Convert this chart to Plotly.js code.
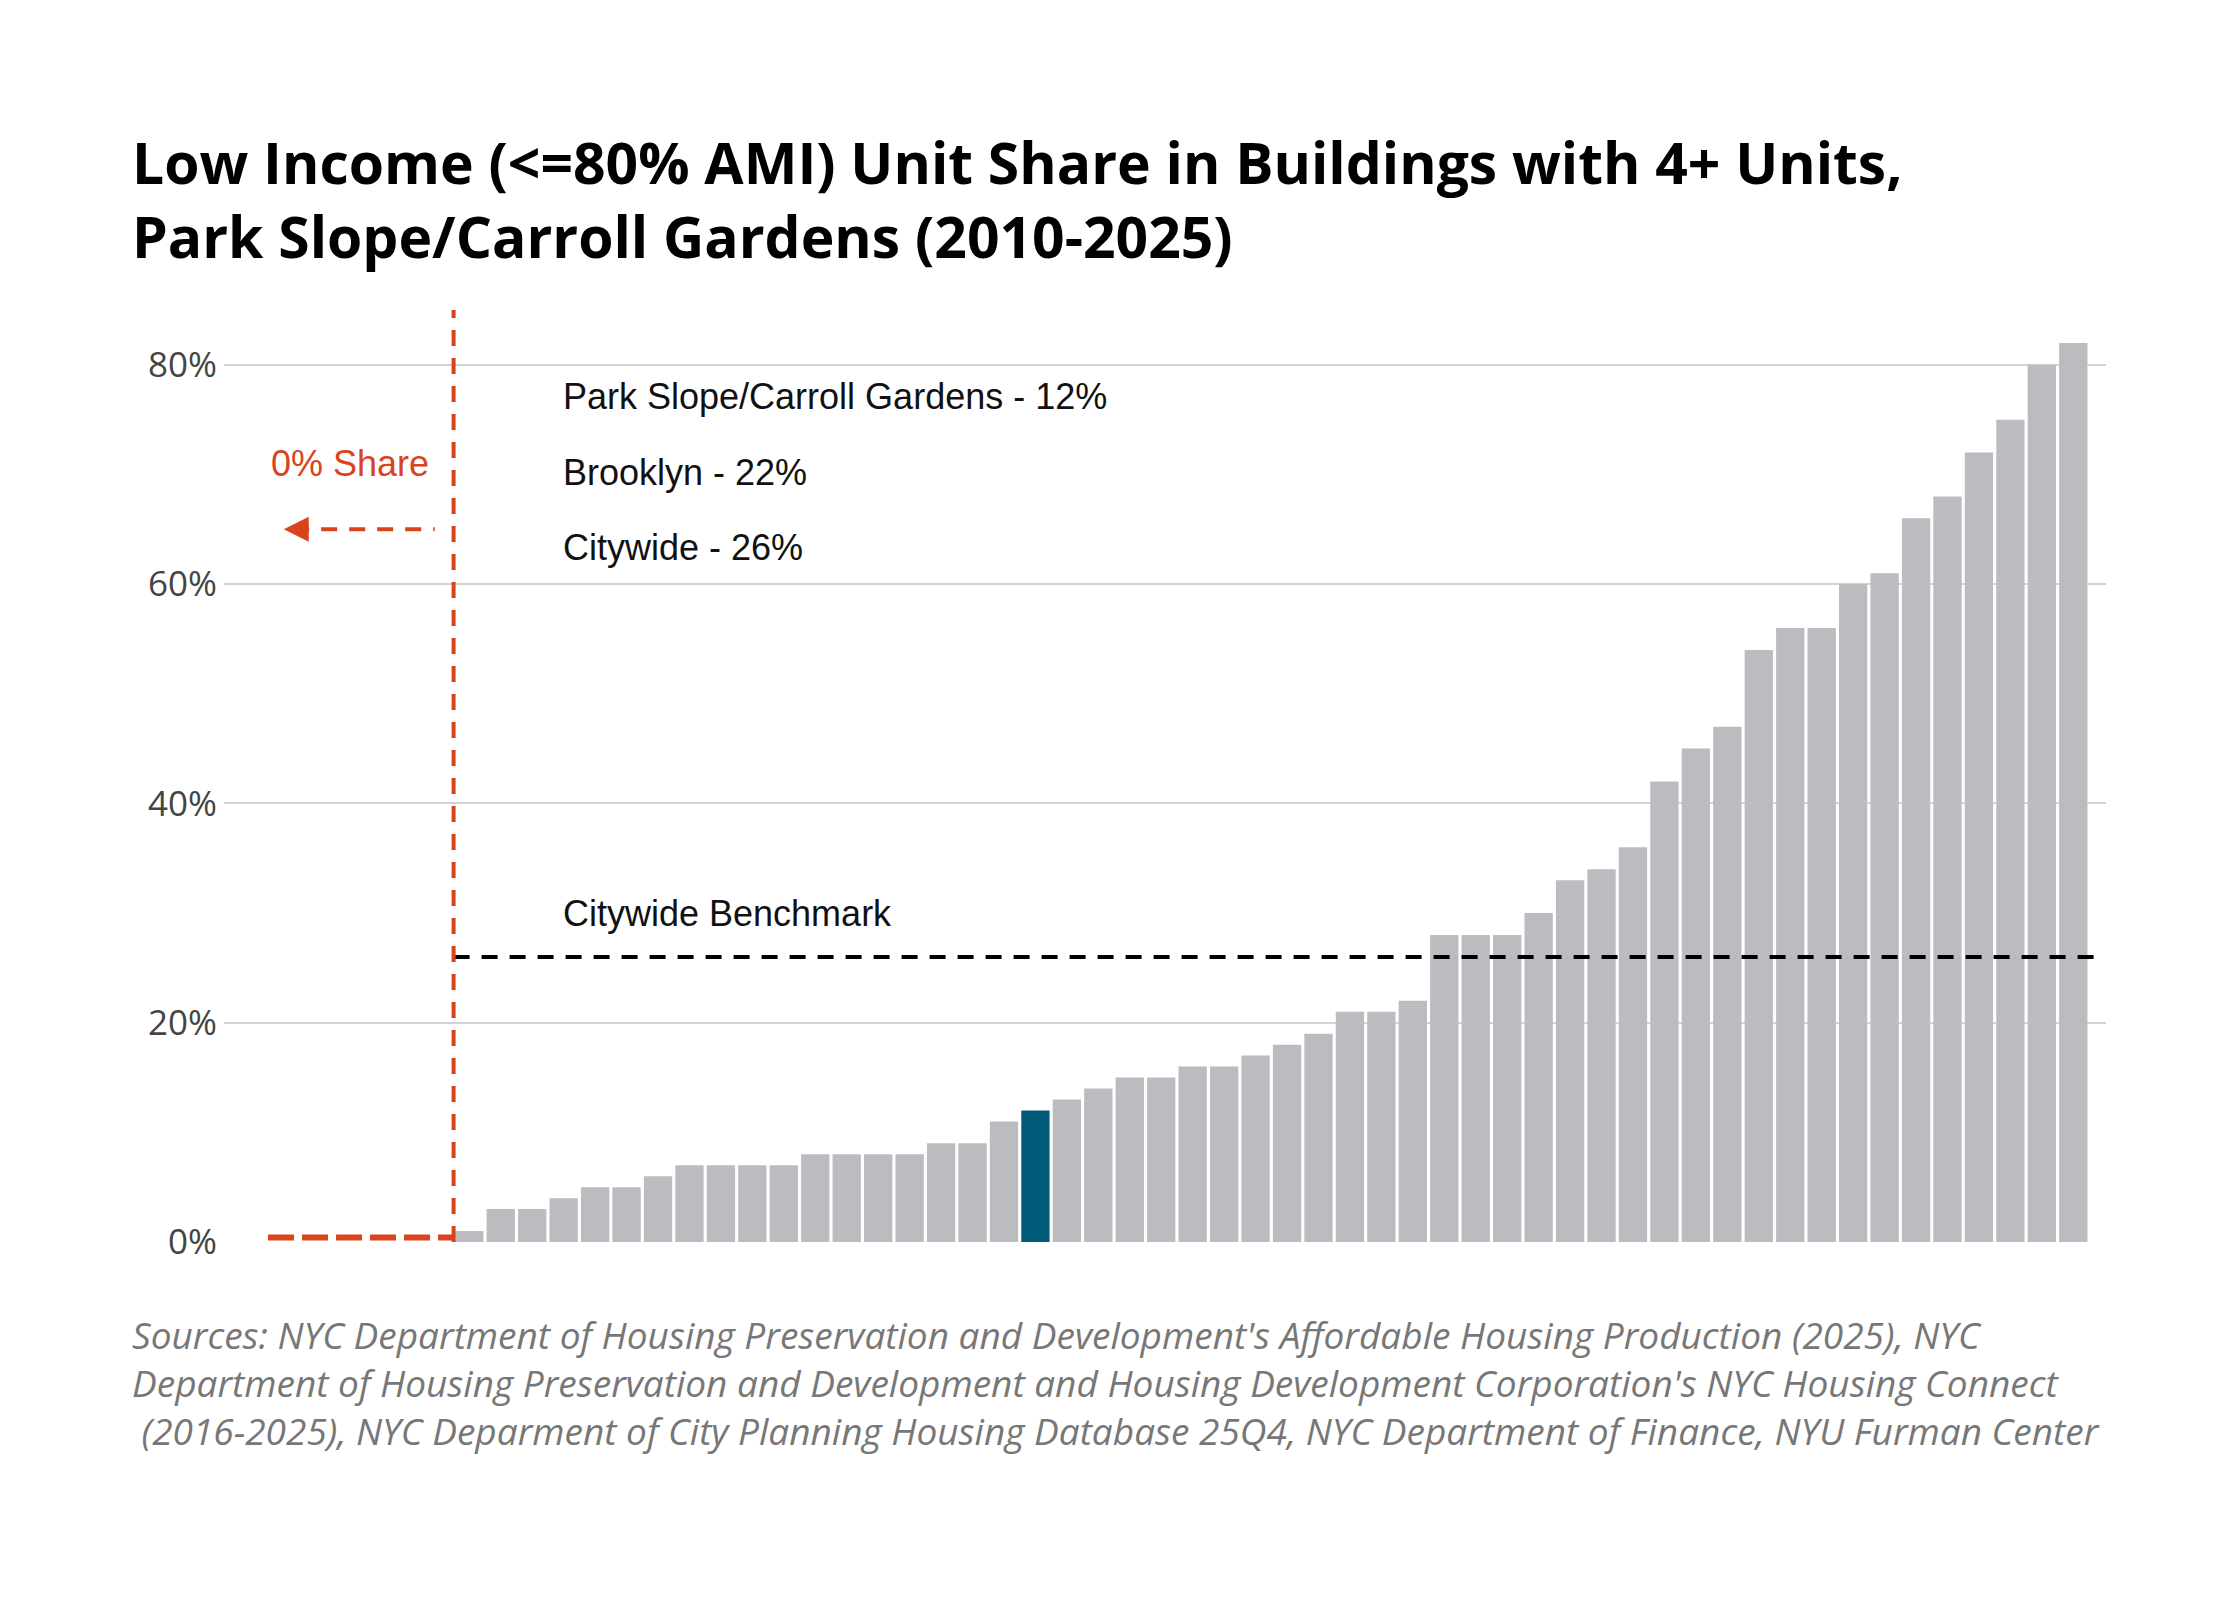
<!DOCTYPE html>
<html>
<head>
<meta charset="utf-8">
<script src="https://cdn.plot.ly/plotly-3.0.1.min.js"></script>
<style>body{margin:0;background:#fff}#graph{width:2240px;height:1600px}</style>
</head>
<body>
<div id="graph"></div>
<script>
// share of low income units per building, sorted
var shares = [1,3,3,4,5,5,6,7,7,7,7,8,8,8,8,9,9,11,12,13,14,15,15,16,16,17,18,19,21,21,22,
  28,28,28,30,33,34,36,42,45,47,54,56,56,60,61,66,68,72,75,80,82];
var highlight = 12;
var benchmark = 26;
var yTicks = [0, 20, 40, 60, 80];
var yTickText = ['0%', '20%', '40%', '60%', '80%'];
var legendLines = ['Park Slope/Carroll Gardens - 12%', 'Brooklyn - 22%', 'Citywide - 26%'];

var xs = shares.map(function(v, i) { return i + 1; });
var hiIdx = shares.indexOf(highlight);
var colors = shares.map(function(v, i) { return i === hiIdx ? '#005b78' : '#bbbcc0'; });

var red = '#d9441c';

var trace = {
  x: xs, y: shares, type: 'bar',
  marker: {color: colors},
  hoverinfo: 'none'
};

var annotations = [
  {x: 3.9, y: 77.1, text: legendLines[0]},
  {x: 3.9, y: 70.2, text: legendLines[1]},
  {x: 3.9, y: 63.3, text: legendLines[2]},
  {x: 3.9, y: 30, text: 'Citywide Benchmark'}
].map(function(a) {
  return {x: a.x, y: a.y, xref: 'x', yref: 'y', text: a.text, showarrow: false,
    xanchor: 'left', font: {family: 'Liberation Sans, Arial', size: 36, color: '#111'}};
});
annotations.push({x: -2.8, y: 71, xref: 'x', yref: 'y', text: '0% Share', showarrow: false,
  font: {family: 'Liberation Sans, Arial', size: 36, color: red}});
annotations.push({x: -4.9, y: 65, ax: -4.1, ay: 65, axref: 'x', ayref: 'y', xref: 'x', yref: 'y',
  text: '', showarrow: true, arrowhead: 2, arrowsize: 1, arrowwidth: 5, arrowcolor: red});
annotations.push({xref: 'paper', yref: 'paper', x: -0.05, y: 1.035, xanchor: 'left', yanchor: 'bottom',
  text: 'Low Income (<=80% AMI) Unit Share in Buildings with 4+ Units,<br>Park Slope/Carroll Gardens (2010-2025)',
  align: 'left', showarrow: false, font: {family: 'Open Sans', size: 57, color: '#000', weight: 700}});
annotations.push({xref: 'paper', yref: 'paper', x: -0.05, y: -0.07, xanchor: 'left', yanchor: 'top',
  text: "<i>Sources: NYC Department of Housing Preservation and Development's Affordable Housing Production (2025), NYC<br>Department of Housing Preservation and Development and Housing Development Corporation's NYC Housing Connect<br> (2016-2025), NYC Deparment of City Planning Housing Database 25Q4, NYC Department of Finance, NYU Furman Center</i>",
  align: 'left', showarrow: false, font: {family: 'Open Sans', size: 37, color: '#777'}});

var shapes = [
  {type: 'line', xref: 'x', yref: 'y', x0: 0.5, x1: 53, y0: benchmark, y1: benchmark,
    line: {color: '#000', width: 4, dash: '16px,12px'}},
  {type: 'line', xref: 'x', yref: 'y', x0: 0.5, x1: 0.5, y0: 0, y1: 85,
    line: {color: red, width: 4, dash: '16px,12px'}},
  {type: 'line', xref: 'x', yref: 'y', x0: -5.4, x1: 0.5, y0: 0.4, y1: 0.4,
    line: {color: red, width: 6, dash: '26px,8px'}},
  {type: 'line', xref: 'x', yref: 'y', x0: -4.6, x1: -0.1, y0: 65, y1: 65,
    line: {color: red, width: 4, dash: '16px,12px'}}
];

var layout = {
  width: 2240, height: 1600,
  margin: {l: 224, r: 134, t: 310, b: 358},
  paper_bgcolor: '#fff', plot_bgcolor: '#fff',
  showlegend: false, bargap: 0.1,
  xaxis: {range: [-6.8, 53.04], showticklabels: false, showgrid: false, zeroline: false, ticks: ''},
  yaxis: {range: [0, 85], tickvals: yTicks, ticktext: yTickText, showgrid: true, gridcolor: '#d3d3d3',
    gridwidth: 2, zeroline: false, ticks: '', ticklabelstandoff: 6,
    tickfont: {family: 'Open Sans', size: 35, color: '#444'}},
  shapes: shapes,
  annotations: annotations
};

Plotly.newPlot('graph', [trace], layout, {staticPlot: true});
</script>
</body>
</html>
